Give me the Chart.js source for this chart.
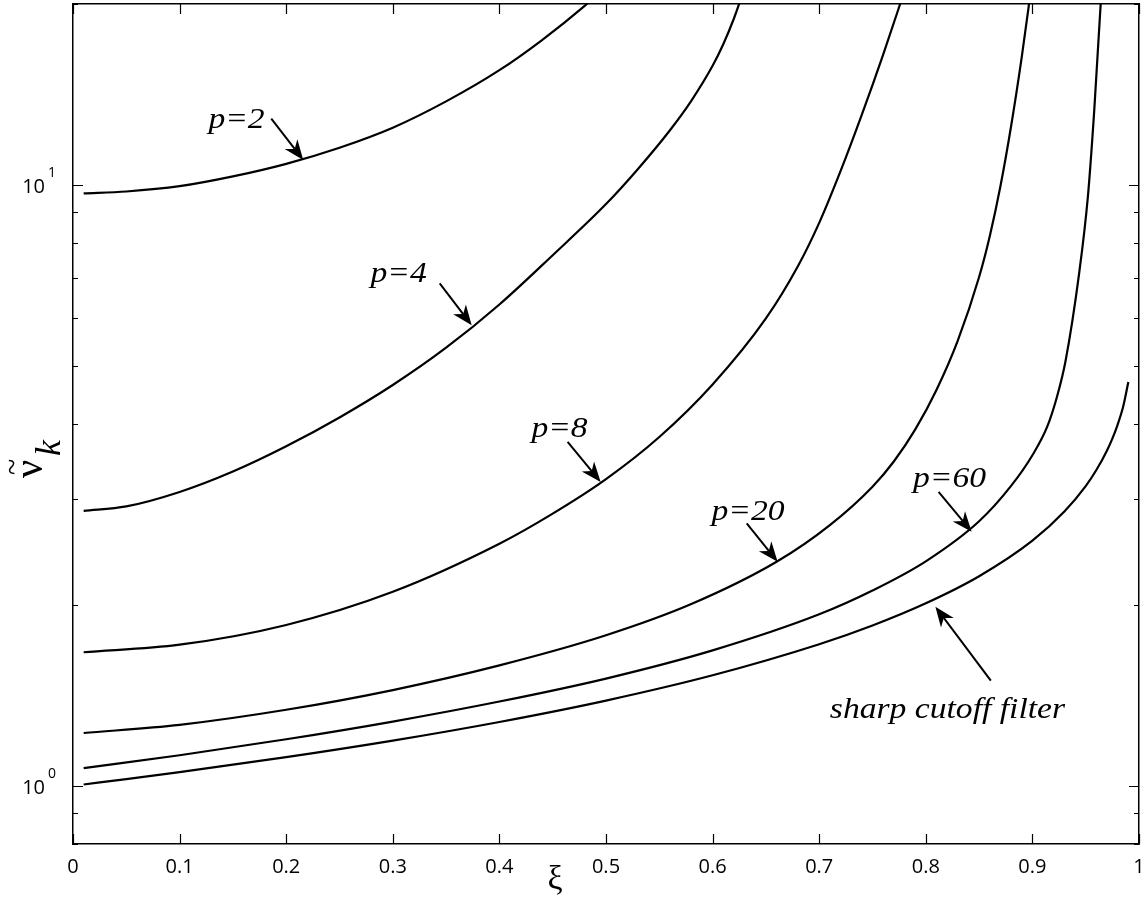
<!DOCTYPE html>
<html>
<head>
<meta charset="utf-8">
<script src="https://cdn.jsdelivr.net/npm/chart.js@4.4.1/dist/chart.umd.min.js"></script>
<style>
  html, body { margin: 0; padding: 0; background: #fff; }
  canvas { display: block; }
</style>
</head>
<body>
<canvas id="chart" width="1146" height="903"></canvas>
<script>
// axis ticks
const xTickValues = [0, 0.1, 0.2, 0.3, 0.4, 0.5, 0.6, 0.7, 0.8, 0.9, 1];
const yTickValues = [0.8, 0.9, 1, 2, 3, 4, 5, 6, 7, 8, 9, 10, 20];
const yDecades = [1, 10];
const yDecadeExp = ['0', '1'];

// curves (xi, nu)
const xiP2 = [0.01, 0.05, 0.1, 0.15, 0.2, 0.25, 0.3, 0.35, 0.4, 0.44, 0.48, 0.49];
const nuP2 = [9.68, 9.75, 9.95, 10.33, 10.84, 11.53, 12.45, 13.77, 15.52, 17.42, 19.86, 20.61];

const xiP4 = [0.01, 0.05, 0.1, 0.15, 0.2, 0.25, 0.3, 0.35, 0.4, 0.45, 0.5, 0.53, 0.56, 0.58, 0.6, 0.61, 0.62, 0.625, 0.63];
const nuP4 = [2.868, 2.917, 3.083, 3.334, 3.673, 4.102, 4.645, 5.358, 6.324, 7.638, 9.29, 10.63, 12.33, 13.80, 15.78, 17.14, 18.92, 20.04, 21.38];

const xiP8 = [0.01, 0.1, 0.2, 0.3, 0.4, 0.45, 0.5, 0.55, 0.6, 0.65, 0.68, 0.7, 0.72, 0.74, 0.76, 0.78];
const nuP8 = [1.668, 1.717, 1.852, 2.103, 2.528, 2.837, 3.238, 3.805, 4.654, 5.995, 7.322, 8.646, 10.54, 13.09, 16.48, 21.03];

const xiP20 = [0.01, 0.1, 0.2, 0.3, 0.4, 0.5, 0.58, 0.66, 0.71, 0.75, 0.77, 0.79, 0.81, 0.83, 0.85, 0.86, 0.87, 0.88, 0.89, 0.9];
const nuP20 = [1.224, 1.263, 1.338, 1.443, 1.586, 1.780, 2.006, 2.359, 2.715, 3.146, 3.465, 3.914, 4.557, 5.505, 7.025, 8.215, 9.947, 12.52, 16.32, 22.02];

const xiP60 = [0.01, 0.1, 0.2, 0.3, 0.4, 0.5, 0.6, 0.7, 0.75, 0.8, 0.85, 0.88, 0.9, 0.914, 0.923, 0.931, 0.944, 0.952, 0.958, 0.964, 0.966];
const nuP60 = [1.070, 1.124, 1.195, 1.279, 1.381, 1.508, 1.680, 1.929, 2.113, 2.363, 2.755, 3.155, 3.548, 3.963, 4.436, 5.082, 7.161, 9.537, 13.29, 19.93, 22.28];

const xiSharp = [0.01, 0.05, 0.1, 0.2, 0.3, 0.4, 0.5, 0.6, 0.7, 0.75, 0.8, 0.85, 0.9, 0.93, 0.95, 0.96, 0.97, 0.975, 0.98, 0.985, 0.99];
const nuSharp = [1.005, 1.026, 1.054, 1.116, 1.189, 1.277, 1.386, 1.527, 1.720, 1.848, 2.012, 2.232, 2.558, 2.860, 3.153, 3.353, 3.615, 3.783, 3.992, 4.264, 4.699];

const curveXi = [xiP2, xiP4, xiP8, xiP20, xiP60, xiSharp];
const curveNu = [nuP2, nuP4, nuP8, nuP20, nuP60, nuSharp];
const curveNames = ['p=2', 'p=4', 'p=8', 'p=20', 'p=60', 'sharp cutoff filter'];

// labels and arrows, anchored in data units
const labelXi = [0.127, 0.279, 0.430, 0.599, 0.788, 0.710];
const labelNu = [12.45, 6.88, 3.80, 2.767, 3.140, 1.297];
const tailXi = [0.186, 0.344, 0.464, 0.632, 0.812, 0.861];
const tailNu = [12.89, 6.855, 3.734, 2.733, 3.084, 1.496];
const tipXi = [0.216, 0.374, 0.495, 0.661, 0.843, 0.809];
const tipNu = [11.0, 5.84, 3.204, 2.359, 2.647, 1.986];

function drawArrow(ctx, x0, y0, x1, y1) {
  const ang = Math.atan2(y1 - y0, x1 - x0);
  const headLen = 20, headHalf = 8, notch = 6;
  ctx.beginPath();
  ctx.moveTo(x0, y0);
  ctx.lineTo(x1 - Math.cos(ang) * (headLen - notch), y1 - Math.sin(ang) * (headLen - notch));
  ctx.lineWidth = 2;
  ctx.stroke();
  ctx.save();
  ctx.translate(x1, y1);
  ctx.rotate(ang);
  ctx.beginPath();
  ctx.moveTo(0, 0);
  ctx.lineTo(-headLen, -headHalf);
  ctx.lineTo(-headLen + notch, 0);
  ctx.lineTo(-headLen, headHalf);
  ctx.closePath();
  ctx.fill();
  ctx.restore();
}

function wideText(ctx, text, x, y, sx) {
  ctx.save();
  ctx.translate(x, y);
  ctx.scale(sx, 1);
  ctx.fillText(text, 0, 0);
  ctx.restore();
}

const decorations = {
  id: 'decorations',
  afterDraw(chart) {
    const ctx = chart.ctx;
    const xs = chart.scales.x, ys = chart.scales.y;
    const { left, right, top, bottom } = chart.chartArea;
    ctx.save();
    ctx.strokeStyle = '#000';
    ctx.fillStyle = '#000';

    // inward ticks on all four sides
    ctx.lineWidth = 1.2;
    ctx.beginPath();
    xs.ticks.forEach(t => {
      const px = Math.round(xs.getPixelForValue(t.value)) + 0.5;
      ctx.moveTo(px, bottom); ctx.lineTo(px, bottom - 10);
      ctx.moveTo(px, top); ctx.lineTo(px, top + 10);
    });
    ys.ticks.forEach(t => {
      const py = Math.round(ys.getPixelForValue(t.value)) + 0.5;
      const len = yDecades.includes(t.value) ? 10 : 5;
      ctx.moveTo(left, py); ctx.lineTo(left + len, py);
      ctx.moveTo(right, py); ctx.lineTo(right - len, py);
    });
    ctx.stroke();

    // 10^n labels
    yDecades.forEach((v, i) => {
      const py = ys.getPixelForValue(v);
      ctx.font = '20px "Open Sans"';
      ctx.textAlign = 'right';
      ctx.textBaseline = 'alphabetic';
      ctx.fillText('10', left - 28, py + 8.5);
      ctx.font = '14px "Open Sans"';
      ctx.textAlign = 'left';
      ctx.fillText(yDecadeExp[i], left - 25, py - 8);
    });

    // axis titles
    ctx.font = '34px "Liberation Serif"';
    ctx.textAlign = 'center';
    ctx.fillText('ξ', 555, 889);

    ctx.save();
    ctx.translate(0, 480);
    ctx.rotate(-Math.PI / 2);
    ctx.textAlign = 'left';
    ctx.font = '40px "Liberation Serif"';
    ctx.fillText('ν', 2, 42);
    ctx.font = '30px "Liberation Serif"';
    ctx.fillText('~', 5, 22);
    ctx.font = 'italic 36px "Liberation Serif"';
    ctx.fillText('k', 24, 60);
    ctx.restore();

    // curve labels and arrows
    ctx.font = 'italic 30px "Liberation Serif"';
    ctx.textAlign = 'left';
    curveNames.forEach((name, i) => {
      wideText(ctx, name, xs.getPixelForValue(labelXi[i]), ys.getPixelForValue(labelNu[i]), 1.12);
      drawArrow(ctx,
        xs.getPixelForValue(tailXi[i]), ys.getPixelForValue(tailNu[i]),
        xs.getPixelForValue(tipXi[i]), ys.getPixelForValue(tipNu[i]));
    });
    ctx.restore();
  }
};

const datasets = curveXi.map((xiArr, i) => ({
  label: curveNames[i],
  data: xiArr.map((x, j) => ({ x: x, y: curveNu[i][j] })),
  borderColor: '#000',
  borderWidth: 2.2,
  pointRadius: 0,
  fill: false,
  cubicInterpolationMode: 'monotone',
  clip: 0
}));

const axisBorder = { display: true, color: '#000', width: 1.5 };
const noGrid = { display: false, drawTicks: false };

new Chart(document.getElementById('chart').getContext('2d'), {
  type: 'line',
  data: { datasets: datasets },
  options: {
    responsive: false,
    animation: false,
    devicePixelRatio: 1,
    layout: { padding: 0 },
    plugins: { legend: { display: false }, tooltip: { enabled: false } },
    scales: {
      x: {
        type: 'linear', position: 'bottom', min: 0, max: 1,
        afterBuildTicks: s => { s.ticks = xTickValues.map(v => ({ value: v })); },
        afterFit: s => { s.height = 59; },
        ticks: {
          autoSkip: false, maxRotation: 0, padding: 0, color: '#000',
          font: { family: 'Open Sans', size: 20 },
          callback: v => (v === 0 ? '0' : v === 1 ? '1' : v.toFixed(1))
        },
        grid: { display: false, drawTicks: true, tickLength: 11 },
        border: axisBorder
      },
      xTop: {
        type: 'linear', position: 'top', min: 0, max: 1,
        afterFit: s => { s.height = 4; },
        ticks: { display: false },
        grid: noGrid,
        border: axisBorder
      },
      y: {
        type: 'logarithmic', position: 'left', min: 0.8, max: 20,
        afterBuildTicks: s => { s.ticks = yTickValues.map(v => ({ value: v })); },
        afterFit: s => { s.width = 73; },
        ticks: { display: false },
        grid: noGrid,
        border: axisBorder
      },
      yRight: {
        type: 'logarithmic', position: 'right', min: 0.8, max: 20,
        afterFit: s => { s.width = 7; },
        ticks: { display: false },
        grid: noGrid,
        border: axisBorder
      }
    }
  },
  plugins: [decorations]
});
</script>
</body>
</html>
